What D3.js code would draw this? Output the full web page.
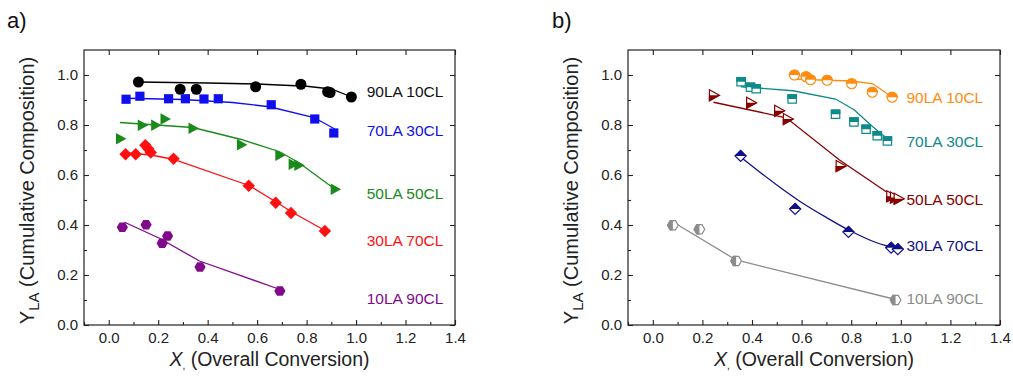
<!DOCTYPE html>
<html>
<head>
<meta charset="utf-8">
<script src="https://cdn.jsdelivr.net/npm/d3@7"></script>
<style>
  body { margin: 0; background: #fff; }
  svg { font-family: "Liberation Sans", Arial, sans-serif; }
</style>
</head>
<body>
<svg id="chart" width="1013" height="378"></svg>
<script>
// labels of the composition series (same order in both panels)
const seriesLabels = ['90LA 10CL', '70LA 30CL', '50LA 50CL', '30LA 70CL', '10LA 90CL'];
const xTicks = [0.0, 0.2, 0.4, 0.6, 0.8, 1.0, 1.2, 1.4];
const yTicks = [0.0, 0.2, 0.4, 0.6, 0.8, 1.0];

// panel a) measured points [X, Y]
const a90 = [[0.12, 0.972], [0.289, 0.943], [0.354, 0.943], [0.594, 0.953], [0.777, 0.963], [0.885, 0.933], [0.895, 0.93], [0.981, 0.912]];
const a70 = [[0.07, 0.903], [0.126, 0.915], [0.242, 0.905], [0.31, 0.905], [0.385, 0.904], [0.443, 0.905], [0.657, 0.881], [0.833, 0.824], [0.91, 0.768]];
const a50 = [[0.047, 0.745], [0.135, 0.799], [0.189, 0.799], [0.227, 0.824], [0.34, 0.787], [0.536, 0.721], [0.691, 0.679], [0.745, 0.643], [0.768, 0.639], [0.915, 0.543]];
const a30 = [[0.068, 0.683], [0.109, 0.683], [0.148, 0.719], [0.16, 0.705], [0.17, 0.69], [0.262, 0.665], [0.566, 0.557], [0.675, 0.489], [0.737, 0.448], [0.874, 0.376]];
const a10 = [[0.055, 0.391], [0.151, 0.401], [0.216, 0.327], [0.238, 0.356], [0.369, 0.232], [0.692, 0.136]];

// panel a) model curves
const a90fit = [[0.12, 0.972], [0.4, 0.968], [0.6, 0.964], [0.8, 0.955], [0.9, 0.944], [0.98, 0.913]];
const a70fit = [[0.07, 0.907], [0.3, 0.902], [0.5, 0.89], [0.65, 0.873], [0.83, 0.83], [0.914, 0.784]];
const a50fit = [[0.045, 0.81], [0.34, 0.79], [0.536, 0.742], [0.691, 0.693], [0.772, 0.647], [0.915, 0.543]];
const a30fit = [[0.06, 0.69], [0.17, 0.68], [0.26, 0.663], [0.57, 0.557], [0.68, 0.49], [0.74, 0.452], [0.874, 0.378]];
const a10fit = [[0.064, 0.411], [0.205, 0.347], [0.367, 0.256], [0.684, 0.145]];

// panel b) measured points
const b90 = [[0.571, 1.0], [0.618, 0.993], [0.636, 0.981], [0.703, 0.979], [0.802, 0.965], [0.885, 0.931], [0.965, 0.911]];
const b70 = [[0.356, 0.973], [0.394, 0.951], [0.417, 0.945], [0.562, 0.904], [0.737, 0.843], [0.811, 0.812], [0.86, 0.783], [0.905, 0.757], [0.946, 0.736]];
const b50 = [[0.245, 0.919], [0.395, 0.889], [0.508, 0.857], [0.543, 0.824], [0.756, 0.636], [0.96, 0.515], [0.975, 0.51], [0.99, 0.505]];
const b30 = [[0.354, 0.676], [0.574, 0.464], [0.789, 0.372], [0.961, 0.309], [0.988, 0.303]];
const b10 = [[0.081, 0.399], [0.188, 0.383], [0.336, 0.256], [0.979, 0.1]];

// panel b) model curves
const b90fit = [[0.571, 0.983], [0.802, 0.976], [0.888, 0.965], [0.965, 0.911]];
const b70fit = [[0.356, 0.953], [0.565, 0.937], [0.737, 0.904], [0.813, 0.86], [0.887, 0.793], [0.948, 0.743]];
const b50fit = [[0.245, 0.891], [0.538, 0.829], [0.753, 0.66], [0.99, 0.5]];
const b30fit = [[0.354, 0.672], [0.5, 0.56], [0.6, 0.49], [0.7, 0.43], [0.79, 0.38], [0.9, 0.33], [0.98, 0.307]];
const b10fit = [[0.085, 0.41], [0.336, 0.26], [0.979, 0.102]];

// label anchor positions (data units)
const aLabelY = [0.932, 0.776, 0.524, 0.336, 0.104];
const bLabelY = [0.908, 0.732, 0.5, 0.316, 0.104];

const svg = d3.select('#chart');

// marker path shapes centred on 0,0
const shapes = {
  circle: r => `M${-r},0A${r},${r} 0 1,0 ${r},0A${r},${r} 0 1,0 ${-r},0Z`,
  square: r => `M${-r},${-r}H${r}V${r}H${-r}Z`,
  triangle: r => `M${-r * 0.75},${-r}L${r * 1.05},0L${-r * 0.75},${r}Z`,
  diamond: r => `M0,${-r}L${r},0L0,${r}L${-r},0Z`,
  hexagon: r => {
    const p = d3.range(6).map(i => {
      const a = Math.PI / 3 * i;
      return [r * Math.cos(a), r * Math.sin(a)];
    });
    return 'M' + p.map(d => d.join(',')).join('L') + 'Z';
  }
};

// half-fill clip regions for panel b markers
const defs = svg.append('defs');
[['top', -20, -20, 40, 20], ['bottom', -20, 0, 40, 20], ['left', -20, -20, 20, 40]].forEach(c => {
  defs.append('clipPath').attr('id', 'half-' + c[0])
    .append('rect').attr('x', c[1]).attr('y', c[2]).attr('width', c[3]).attr('height', c[4]);
});

function drawPanel(opt) {
  const x = d3.scaleLinear().domain([-0.1, 1.4]).range([opt.left, opt.right]);
  const y = d3.scaleLinear().domain([0, 1.1]).range([325, 50]);
  const g = svg.append('g');

  // frame
  g.append('rect')
    .attr('x', opt.left).attr('y', 50)
    .attr('width', opt.right - opt.left).attr('height', 275)
    .attr('fill', 'none').attr('stroke', '#222').attr('stroke-width', 1.2);

  const fmt = d3.format('.1f');
  g.append('g').attr('transform', 'translate(0,325)')
    .call(d3.axisBottom(x).tickValues(xTicks).tickFormat(fmt).tickSize(-5).tickSizeOuter(0).tickPadding(7));
  g.append('g').attr('transform', 'translate(0,325)')
    .call(d3.axisBottom(x).tickValues(d3.range(-0.1, 1.4, 0.2)).tickFormat('').tickSize(-3).tickSizeOuter(0));
  g.append('g').attr('transform', `translate(${opt.left},0)`)
    .call(d3.axisLeft(y).tickValues(yTicks).tickFormat(fmt).tickSize(-5).tickSizeOuter(0).tickPadding(6));
  g.append('g').attr('transform', `translate(${opt.left},0)`)
    .call(d3.axisLeft(y).tickValues(d3.range(0.1, 1.1, 0.2)).tickFormat('').tickSize(-3).tickSizeOuter(0));
  g.append('g').attr('transform', 'translate(0,50)')
    .call(d3.axisTop(x).tickValues(xTicks).tickFormat('').tickSize(-5).tickSizeOuter(0));
  g.append('g').attr('transform', `translate(${opt.right},0)`)
    .call(d3.axisRight(y).tickValues(yTicks).tickFormat('').tickSize(-5).tickSizeOuter(0));
  g.selectAll('.domain').remove();
  g.selectAll('.tick line').attr('stroke', '#222').attr('stroke-width', 1.1);
  g.selectAll('.tick text').attr('font-size', 15).attr('fill', '#222')
    .attr('font-family', '"Liberation Sans", Arial, sans-serif');

  // axis titles
  g.append('text')
    .attr('x', (x(-0.1) + x(1.4)) / 2).attr('y', 366)
    .attr('text-anchor', 'middle').attr('font-size', 19.5).attr('fill', '#222')
    .call(t => {
      t.append('tspan').attr('font-style', 'italic').text('X');
      t.append('tspan').attr('font-size', 10).attr('dy', 3).text(',');
      t.append('tspan').attr('dy', -3).text(' (Overall Conversion)');
    });
  g.append('text')
    .attr('transform', `translate(${opt.left - 50},${(50 + 325) / 2 + 3}) rotate(-90)`)
    .attr('text-anchor', 'middle').attr('font-size', 20).attr('fill', '#222')
    .call(t => {
      t.append('tspan').text('Y');
      t.append('tspan').attr('font-size', 15).attr('dy', 5).text('LA');
      t.append('tspan').attr('dy', -5).text(' (Cumulative Composition)');
    });

  // panel letter
  g.append('text').attr('x', opt.letterX).attr('y', 28)
    .attr('font-size', 22).attr('fill', '#111').text(opt.letter);

  opt.series.forEach((s, i) => {
    const line = d3.line().x(d => x(d[0])).y(d => y(d[1]))
      .curve(s.smooth ? d3.curveMonotoneX : d3.curveLinear);
    g.append('path').datum(s.fit)
      .attr('d', line).attr('fill', 'none')
      .attr('stroke', s.color).attr('stroke-width', 1.3);

    const m = g.append('g').selectAll('g').data(s.pts).join('g')
      .attr('transform', d => `translate(${x(d[0])},${y(d[1])})`);
    const dPath = shapes[s.shape](s.size);
    if (s.half) {
      m.append('path').attr('d', dPath).attr('fill', '#fff')
        .attr('stroke', s.color).attr('stroke-width', 1.2);
      m.append('path').attr('d', dPath).attr('fill', s.color)
        .attr('stroke', s.color).attr('stroke-width', 1.2)
        .attr('clip-path', `url(#half-${s.half})`);
    } else {
      m.append('path').attr('d', dPath).attr('fill', s.color);
    }

    g.append('text')
      .attr('x', x(opt.labelX)).attr('y', y(opt.labelY[i]))
      .attr('dy', '0.35em').attr('font-size', 15.5)
      .attr('fill', s.labelColor || s.color)
      .text(seriesLabels[i]);
  });
}

drawPanel({
  left: 84, right: 455, letter: 'a)', letterX: 7,
  labelX: 1.043, labelY: aLabelY,
  series: [
    { pts: a90, fit: a90fit, color: '#000000', shape: 'circle', size: 5.5, labelColor: '#111' },
    { pts: a70, fit: a70fit, color: '#1010ee', shape: 'square', size: 4.6 },
    { pts: a50, fit: a50fit, color: '#1a8a1a', shape: 'triangle', size: 5.8 },
    { pts: a30, fit: a30fit, color: '#ff1010', shape: 'diamond', size: 6.2 },
    { pts: a10, fit: a10fit, color: '#800a8a', shape: 'hexagon', size: 5.6 }
  ]
});

drawPanel({
  left: 628, right: 1000, letter: 'b)', letterX: 552,
  labelX: 1.023, labelY: bLabelY,
  series: [
    { pts: b90, fit: b90fit, color: '#ff8c10', shape: 'circle', size: 5, half: 'top' },
    { pts: b70, fit: b70fit, color: '#0e8a8a', shape: 'square', size: 4.2, half: 'top' },
    { pts: b50, fit: b50fit, color: '#880000', shape: 'triangle', size: 5.5, half: 'bottom' },
    { pts: b30, fit: b30fit, color: '#10108a', shape: 'diamond', size: 5.5, half: 'top', smooth: true },
    { pts: b10, fit: b10fit, color: '#8c8c8c', shape: 'hexagon', size: 5.3, half: 'left' }
  ]
});
</script>
</body>
</html>
